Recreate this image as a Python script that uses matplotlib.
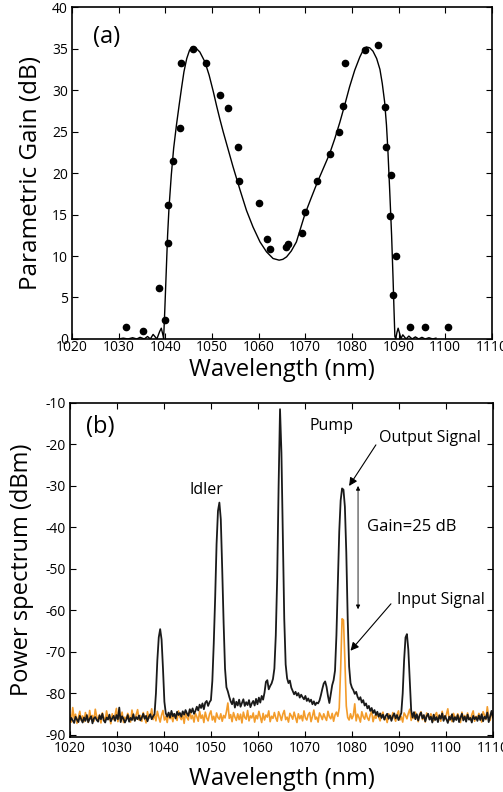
import numpy as np
import matplotlib
matplotlib.use('Agg')
import matplotlib.pyplot as plt

plt.rcParams['font.family'] = ['Open Sans', 'DejaVu Sans']
plt.rcParams['axes.unicode_minus'] = False

# (a) measured gain points
meas_wl = [1031.5, 1035.2, 1038.7, 1039.9, 1040.5, 1040.5, 1041.6, 1043.2, 1043.3, 1045.9,
           1048.7, 1051.8, 1053.4, 1055.6, 1055.7, 1060.0, 1061.7, 1062.5, 1065.8, 1066.4,
           1069.2, 1069.9, 1072.6, 1075.3, 1077.2, 1078.1, 1078.6, 1082.9, 1085.5, 1087.0,
           1087.2, 1088.3, 1088.2, 1089.5, 1088.7, 1092.4, 1095.7, 1100.5]
meas_gain = [1.5, 1.0, 6.2, 2.3, 11.6, 16.2, 21.5, 25.4, 33.3, 34.9,
             33.3, 29.4, 27.8, 23.1, 19.1, 16.4, 12.1, 10.8, 11.1, 11.5,
             12.8, 15.3, 19.0, 22.3, 24.9, 28.1, 33.3, 34.8, 35.4, 28.0,
             23.2, 19.8, 14.8, 10.0, 5.3, 1.5, 1.5, 1.4]

# (a) theory curve
curve_wl = [1030.0, 1031.0, 1032.0, 1033.0, 1033.9, 1034.6, 1035.5, 1036.2, 1036.8, 1037.4,
            1038.2, 1038.8, 1039.15, 1039.45, 1039.65, 1039.9, 1040.2, 1040.5, 1040.8, 1041.3,
            1041.8, 1042.4, 1043.0, 1043.5, 1044.0, 1044.6, 1045.2, 1045.8, 1046.5, 1047.4,
            1048.5, 1049.4, 1050.3, 1051.0, 1051.7, 1052.4, 1053.1, 1054.5, 1056.0, 1057.4,
            1058.8, 1060.3, 1061.7, 1063.1, 1064.4, 1065.2, 1066.0, 1067.0, 1068.1, 1069.9,
            1071.2, 1072.6, 1073.9, 1075.2, 1076.3, 1077.4, 1078.5, 1079.5, 1080.6, 1081.7,
            1082.4, 1083.1, 1083.8, 1084.5, 1085.3, 1086.0, 1086.5, 1087.0, 1087.4, 1087.7,
            1088.1, 1088.5, 1088.8, 1089.0, 1089.2, 1089.4, 1089.65, 1089.9, 1090.25, 1090.5,
            1090.9, 1091.6, 1092.2, 1092.9, 1093.6, 1094.3, 1095.0, 1095.7, 1096.5, 1097.3,
            1098.0]
curve_gain = [0.0, 0.1, 0.0, 0.15, 0.0, 0.2, 0.0, 0.3, 0.0, 0.55,
              0.0, 0.9, 1.3, 0.6, 0.05, 3.5, 8.0, 12.5, 15.8, 19.8,
              23.0, 25.8, 28.3, 30.3, 32.2, 33.8, 34.8, 35.2, 35.1, 34.6,
              33.4, 31.8, 29.8, 28.1, 26.5, 25.0, 23.6, 20.8, 18.0, 15.5,
              13.5, 11.7, 10.5, 9.7, 9.5, 9.6, 9.9, 10.6, 11.7, 15.0,
              16.9, 18.9, 20.6, 22.3, 24.1, 26.1, 28.3, 30.4, 32.4, 34.0,
              34.8, 35.2, 35.1, 34.7, 33.8, 32.5, 30.8, 28.6, 25.8, 22.8,
              17.8, 12.5, 7.5, 3.8, 0.3, 0.05, 0.8, 1.3, 0.6, 0.05,
              0.5, 0.0, 0.35, 0.0, 0.25, 0.0, 0.2, 0.0, 0.15, 0.0,
              0.1]

# (b) spectra, sampled every 0.3 nm from 1020 nm
out_dbm = [
    -86.8, -85.9, -86.5, -87.1, -85.6, -86.3, -86.9, -85.4, -86.2, -87.0,
    -85.8, -86.6, -85.2, -86.9, -86.1, -85.5, -87.2, -86.0, -85.7, -86.4,
    -86.8, -85.3, -86.2, -84.9, -86.5, -87.0, -85.8, -86.3, -85.1, -86.7,
    -86.0, -85.4, -86.6, -85.2, -86.2, -83.4, -86.9, -85.5, -86.1, -87.0,
    -86.3, -85.2, -86.8, -85.9, -86.4, -85.0, -86.6, -85.7, -86.2, -85.3,
    -86.5, -85.8, -84.9, -86.1, -85.4, -86.7, -85.6, -85.0, -86.2, -85.5,
    -85.0, -80.0, -72.0, -66.5, -64.5, -67.0, -74.0, -82.0, -84.8, -85.6,
    -84.6, -85.8, -84.2, -85.5, -84.9, -86.0, -84.4, -85.2, -84.7, -85.6,
    -84.3, -85.1, -84.0, -84.8, -85.4, -83.8, -84.6, -83.6, -84.9, -84.2,
    -83.2, -84.1, -82.7, -83.5, -82.4, -83.8, -82.2, -81.8, -83.0, -82.1,
    -81.6, -77.0, -68.0, -57.0, -44.0, -36.0, -34.0, -38.0, -50.0, -63.0,
    -74.0, -78.5, -79.5, -80.8, -81.9, -82.6, -81.2, -83.4, -82.0, -82.9,
    -81.5, -83.2, -82.3, -81.4, -83.0, -82.1, -82.8, -81.6, -83.3, -82.4,
    -81.8, -82.9, -81.3, -82.6, -81.0, -82.2, -80.6, -81.5, -79.8, -77.2,
    -76.8, -79.0, -78.2, -77.6, -76.5, -74.0, -66.0, -52.0, -30.0, -11.5,
    -22.0, -42.0, -62.0, -73.0, -76.3, -77.5, -76.9, -78.6, -79.4, -80.2,
    -79.6, -80.5, -79.9, -81.0, -80.3, -80.9, -81.4, -80.6, -81.8, -81.2,
    -82.0, -81.5, -82.6, -81.9, -82.8, -82.2, -82.4, -81.7, -80.4, -78.9,
    -77.6, -77.1, -78.4, -80.6, -82.3, -80.2, -78.0, -76.8, -74.5, -66.0,
    -53.0, -41.0, -33.5, -30.6, -30.9, -35.0, -46.0, -62.0, -73.5, -77.5,
    -78.6, -79.2, -80.1, -79.6, -80.8, -81.5, -80.9, -82.2, -81.6, -82.9,
    -82.4, -83.6, -83.0, -84.2, -83.5, -84.7, -84.0, -85.2, -84.4, -85.6,
    -84.8, -85.9, -85.1, -86.3, -85.4, -84.9, -86.1, -85.3, -86.6, -85.5,
    -84.8, -86.0, -85.2, -86.4, -85.6, -84.7, -80.0, -72.0, -66.5, -65.7,
    -69.5, -77.0, -84.0, -85.8, -84.5, -86.2, -85.0, -86.5, -85.3, -84.6,
    -86.0, -85.2, -86.7, -85.5, -84.9, -86.3, -85.6, -87.0, -85.1, -86.4,
    -85.7, -86.9, -85.3, -86.1, -84.8, -86.6, -85.4, -86.2, -87.1, -85.6,
    -86.3, -85.0, -86.8, -85.7, -86.4, -85.2, -86.9, -85.8, -84.9, -86.5,
    -85.6, -86.8, -85.1, -86.3, -85.9, -87.0, -85.4, -86.2, -85.7, -86.6,
    -85.3, -86.4, -85.0, -86.7, -85.6, -86.1, -84.6, -86.9, -85.5, -84.2,
    -85.8]
in_dbm = [
    -85.2, -86.9, -83.4, -86.1, -85.0, -87.2, -85.7, -84.3, -86.5, -85.4,
    -86.8, -84.6, -85.9, -87.0, -84.1, -86.2, -85.3, -86.7, -83.8, -85.6,
    -86.4, -85.1, -87.1, -84.7, -85.8, -86.6, -84.2, -86.0, -85.5, -87.3,
    -84.9, -86.3, -85.2, -83.6, -86.8, -85.4, -86.1, -84.5, -87.0, -85.7,
    -86.2, -84.8, -85.6, -86.9, -84.0, -85.9, -86.5, -85.1, -83.9, -86.4,
    -85.3, -86.7, -84.6, -85.8, -87.1, -84.4, -86.0, -85.5, -83.7, -86.3,
    -85.0, -86.6, -84.3, -85.7, -86.9, -85.2, -84.1, -86.4, -85.6, -87.0,
    -84.7, -86.1, -85.4, -86.8, -84.9, -85.9, -86.5, -84.2, -85.7, -86.3,
    -85.1, -87.2, -84.6, -85.8, -86.4, -83.9, -86.1, -85.3, -86.9, -84.8,
    -85.6, -86.7, -84.3, -86.0, -85.2, -87.0, -84.5, -85.9, -86.6, -85.0,
    -84.2, -86.4, -85.5, -86.9, -84.7, -85.8, -86.2, -84.9, -86.7, -85.3,
    -85.9, -84.4, -82.3, -86.0, -85.1, -86.8, -84.6, -85.7, -86.5, -84.9,
    -86.3, -85.0, -87.1, -84.5, -85.8, -86.2, -84.1, -86.6, -85.4, -85.9,
    -84.7, -86.9, -85.3, -86.1, -84.3, -85.6, -87.0, -84.8, -86.4, -85.2,
    -85.7, -84.2, -86.8, -85.5, -86.0, -84.6, -85.9, -86.7, -84.4, -85.3,
    -86.5, -85.0, -84.1, -86.3, -85.7, -86.9, -84.8, -85.4, -86.2, -84.5,
    -85.8, -87.0, -84.9, -86.1, -85.3, -86.6, -84.2, -85.9, -86.4, -85.1,
    -84.6, -86.8, -85.5, -84.0, -86.2, -85.7, -86.9, -84.7, -85.4, -86.3,
    -84.9, -85.8, -86.5, -84.3, -85.6, -86.1, -84.8, -86.7, -85.2, -84.5,
    -85.5, -83.5, -74.0, -62.0, -62.3, -72.0, -83.0, -85.8, -86.4, -84.9,
    -86.1, -85.3, -82.5, -86.6, -85.0, -85.8, -86.9, -84.4, -85.6, -86.2,
    -84.7, -85.9, -86.5, -85.1, -84.3, -86.8, -85.4, -86.0, -84.8, -85.7,
    -86.6, -85.2, -84.5, -86.3, -85.8, -87.0, -84.9, -85.5, -86.2, -84.6,
    -85.9, -86.7, -85.1, -84.2, -86.4, -85.6, -86.9, -84.7, -85.3, -86.1,
    -84.8, -83.8, -86.5, -85.2, -86.0, -84.5, -85.7, -86.8, -85.0, -84.4,
    -86.3, -85.6, -86.9, -84.7, -85.4, -86.1, -84.9, -85.8, -86.6, -85.2,
    -84.6, -86.4, -85.1, -86.7, -84.3, -85.9, -86.2, -85.0, -83.7, -86.5,
    -85.4, -86.8, -84.8, -85.6, -86.3, -84.9, -85.7, -87.0, -84.5, -86.0,
    -85.3, -86.6, -84.7, -85.9, -86.4, -85.1, -84.2, -86.7, -85.5, -86.1,
    -84.8, -85.7, -86.9, -84.4, -85.2, -86.3, -83.2, -85.8, -86.5, -84.6,
    -85.4]

wl_out = 1020 + 0.3 * np.arange(len(out_dbm))
wl_in = 1020 + 0.3 * np.arange(len(in_dbm))

xticks = list(range(1020, 1111, 10))


def style_axes(ax):
    ax.tick_params(direction='in', top=True, right=True, length=4, width=0.8,
                   labelsize=10, pad=3)
    for s in ax.spines.values():
        s.set_linewidth(1.2)


fig = plt.figure(figsize=(5.03, 7.92), dpi=100)

# panel (a)
ax1 = fig.add_axes([0.143, 0.572, 0.835, 0.419])
ax1.plot(curve_wl, curve_gain, color='black', lw=1.0)
ax1.plot(meas_wl, meas_gain, 'o', color='black', ms=4.5, clip_on=False)
ax1.set_xlim(1020, 1110)
ax1.set_ylim(0, 40)
ax1.set_xticks(xticks)
ax1.set_yticks(range(0, 41, 5))
style_axes(ax1)
ax1.tick_params(axis='x', pad=1)
ax1.set_xlabel('Wavelength (nm)', fontsize=17)
ax1.set_ylabel('Parametric Gain (dB)', fontsize=17.5)
ax1.xaxis.set_label_coords(0.5, -0.057)
ax1.yaxis.set_label_coords(-0.069, 0.5)
ax1.text(1024.5, 36.4, '(a)', fontsize=17, va='center', ha='left')

# panel (b)
ax2 = fig.add_axes([0.139, 0.0694, 0.841, 0.4218])
ax2.plot(wl_in, in_dbm, color='#f39c2b', lw=1.2)
ax2.plot(wl_out, out_dbm, color='#1a1a1a', lw=1.3)
ax2.set_xlim(1020, 1110)
ax2.set_ylim(-90.5, -10)
ax2.set_xticks(xticks)
ax2.set_yticks(range(-90, -9, 10))
style_axes(ax2)
ax2.set_xlabel('Wavelength (nm)', fontsize=17)
ax2.set_ylabel('Power spectrum (dBm)', fontsize=17)
ax2.xaxis.set_label_coords(0.5, -0.089)
ax2.yaxis.set_label_coords(-0.085, 0.5)

ax2.text(1023.4, -15.8, '(b)', fontsize=17, va='center', ha='left')
ax2.text(1045.5, -31.0, 'Idler', fontsize=11.5, va='center', ha='left')
ax2.text(1071.0, -15.5, 'Pump', fontsize=11.5, va='center', ha='left')
ax2.text(1085.7, -18.4, 'Output Signal', fontsize=11.5, va='center', ha='left')
ax2.text(1083.2, -39.8, 'Gain=25 dB', fontsize=12, va='center', ha='left')
ax2.text(1089.6, -57.5, 'Input Signal', fontsize=11.5, va='center', ha='left')

ax2.annotate('', xy=(1079.4, -30.0), xytext=(1085.1, -20.1),
             arrowprops=dict(arrowstyle='-|>', color='black', lw=0.8, mutation_scale=12,
                             shrinkA=0, shrinkB=0))
ax2.annotate('', xy=(1079.7, -69.7), xytext=(1088.3, -58.4),
             arrowprops=dict(arrowstyle='-|>', color='black', lw=0.8, mutation_scale=12,
                             shrinkA=0, shrinkB=0))
ax2.annotate('', xy=(1081.3, -30.0), xytext=(1081.3, -59.7),
             arrowprops=dict(arrowstyle='<|-|>', color='black', lw=0.6, mutation_scale=6,
                             shrinkA=0, shrinkB=0))

fig.savefig('out.png', dpi=100)
